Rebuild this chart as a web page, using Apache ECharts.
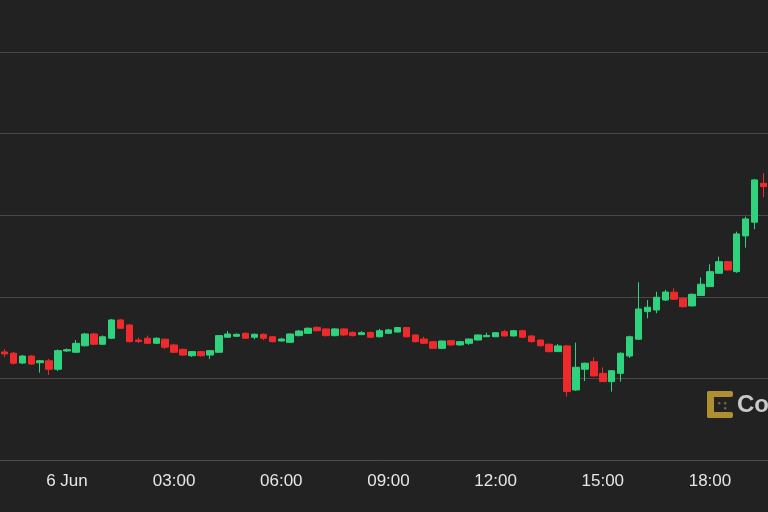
<!DOCTYPE html>
<html>
<head>
<meta charset="utf-8">
<script src="https://cdn.jsdelivr.net/npm/echarts@6/dist/echarts.min.js"></script>
<style>
html,body{margin:0;padding:0;background:#222222;}
#chart{width:768px;height:512px;}
</style>
</head>
<body>
<div id="chart"></div>
<script>
// 15-minute candles, 5 Jun 22:15 to 6 Jun 19:30
const times = [
 '22:15','22:30','22:45','23:00','23:15','23:30','23:45',
 '00:00','00:15','00:30','00:45','01:00','01:15','01:30','01:45',
 '02:00','02:15','02:30','02:45','03:00','03:15','03:30','03:45',
 '04:00','04:15','04:30','04:45','05:00','05:15','05:30','05:45',
 '06:00','06:15','06:30','06:45','07:00','07:15','07:30','07:45',
 '08:00','08:15','08:30','08:45','09:00','09:15','09:30','09:45',
 '10:00','10:15','10:30','10:45','11:00','11:15','11:30','11:45',
 '12:00','12:15','12:30','12:45','13:00','13:15','13:30','13:45',
 '14:00','14:15','14:30','14:45','15:00','15:15','15:30','15:45',
 '16:00','16:15','16:30','16:45','17:00','17:15','17:30','17:45',
 '18:00','18:15','18:30','18:45','19:00','19:15','19:30'
];
// [open, close, low, high]
const ohlc = [
 [25662,25650,25631,25680],[25654,25593,25585,25662],[25594,25637,25588,25643],[25637,25588,25582,25643],
 [25596,25608,25535,25613],[25608,25556,25521,25619],[25556,25670,25545,25677],[25668,25676,25662,25683],
 [25660,25715,25656,25735],[25700,25772,25695,25778],[25772,25709,25705,25778],[25709,25755,25705,25763],
 [25746,25858,25741,25864],[25858,25807,25803,25864],[25827,25725,25720,25833],[25735,25726,25717,25751],
 [25746,25715,25712,25762],[25715,25746,25711,25751],[25740,25691,25680,25744],[25705,25660,25656,25711],
 [25678,25643,25637,25683],[25639,25664,25631,25668],[25664,25639,25633,25668],[25643,25670,25619,25674],
 [25660,25762,25656,25766],[25752,25772,25748,25790],[25758,25770,25754,25775],[25776,25746,25741,25781],
 [25752,25770,25740,25775],[25770,25746,25735,25775],[25755,25725,25720,25760],[25729,25741,25726,25749],
 [25721,25772,25717,25775],[25762,25790,25757,25797],[25776,25807,25772,25812],[25813,25792,25787,25818],
 [25803,25762,25757,25806],[25762,25803,25757,25809],[25803,25766,25760,25806],[25782,25762,25757,25787],
 [25768,25780,25766,25790],[25782,25752,25748,25787],[25755,25792,25751,25803],[25776,25797,25772,25803],
 [25784,25811,25781,25815],[25811,25755,25751,25815],[25766,25725,25720,25769],[25741,25715,25711,25755],
 [25725,25684,25680,25729],[25684,25729,25680,25732],[25731,25705,25700,25735],[25705,25725,25700,25729],
 [25715,25741,25705,25744],[25735,25766,25732,25769],[25755,25763,25754,25780],[25755,25780,25754,25784],
 [25786,25760,25757,25797],[25760,25792,25757,25797],[25792,25752,25748,25797],[25760,25725,25720,25763],
 [25735,25700,25695,25738],[25709,25664,25659,25714],[25664,25699,25662,25711],[25699,25419,25388,25705],
 [25429,25568,25423,25719],[25556,25593,25484,25597],[25602,25515,25512,25629],[25531,25480,25478,25568],
 [25480,25547,25419,25551],[25531,25654,25480,25659],[25637,25755,25625,25762],[25740,25925,25735,26089],
 [25909,25936,25868,25980],[25919,25997,25899,26031],[25980,26029,25974,26042],[26028,25985,25980,26052],
 [25991,25939,25934,25993],[25944,26015,25941,26020],[26008,26077,26005,26118],[26062,26154,26060,26199],
 [26144,26215,26140,26246],[26215,26164,26161,26219],[26154,26385,26146,26399],[26373,26477,26301,26491],
 [26457,26716,26414,26722],[26695,26675,26610,26757]
];
const tickTimes = ['00:00','03:00','06:00','09:00','12:00','15:00','18:00'];
const tickLabels = ['6 Jun','03:00','06:00','09:00','12:00','15:00','18:00'];
const yMin = 25000, yMax = 27818, yStep = 500;

const chart = echarts.init(document.getElementById('chart'), null, {renderer:'canvas'});
chart.setOption({
  backgroundColor: '#222222',
  animation: false,
  grid: {left: 0, right: 0, top: 0, bottom: 52, containLabel: false},
  xAxis: {
    type: 'category',
    data: times,
    boundaryGap: true,
    axisLine: {show: true, lineStyle: {color: '#4c4c4c', width: 1}},
    axisTick: {show: false},
    splitLine: {show: false},
    axisLabel: {
      interval: function (idx, val) { return tickTimes.indexOf(val) >= 0; },
      formatter: function (val) { const k = tickTimes.indexOf(val); return k >= 0 ? tickLabels[k] : ''; },
      color: '#e6e6e6',
      fontSize: 17,
      fontFamily: 'Liberation Sans, Arial, sans-serif',
      margin: 13
    }
  },
  yAxis: {
    type: 'value',
    min: yMin, max: yMax, interval: yStep,
    axisLine: {show: false},
    axisTick: {show: false},
    axisLabel: {show: false},
    splitLine: {show: true, showMaxLine: false, lineStyle: {color: '#484848', width: 1}}
  },
  series: [{
    type: 'candlestick',
    data: ohlc,
    barWidth: 7,
    itemStyle: {
      color: '#2fd27d',
      color0: '#ee2a2c',
      borderColor: '#2fd27d',
      borderColor0: '#ee2a2c',
      borderWidth: 1
    }
  }],
  graphic: [
    {type: 'rect', left: 707, top: 391, shape: {width: 7, height: 27, r: 2}, style: {fill: '#b08f32'}},
    {type: 'rect', left: 707, top: 391, shape: {width: 26, height: 6, r: 2}, style: {fill: '#b08f32'}},
    {type: 'rect', left: 707, top: 412, shape: {width: 26, height: 6, r: 2}, style: {fill: '#b08f32'}},
    {type: 'circle', left: 718, top: 402, shape: {r: 1.2}, style: {fill: '#7d6a33'}},
    {type: 'circle', left: 724, top: 402, shape: {r: 1.2}, style: {fill: '#7d6a33'}},
    {type: 'circle', left: 724, top: 407, shape: {r: 1.2}, style: {fill: '#7d6a33'}},
    {type: 'text', left: 737, top: 393, style: {text: 'CoinDesk', fill: '#c9c9c9', font: 'bold 24px Liberation Sans, Arial, sans-serif'}}
  ]
});
</script>
</body>
</html>
